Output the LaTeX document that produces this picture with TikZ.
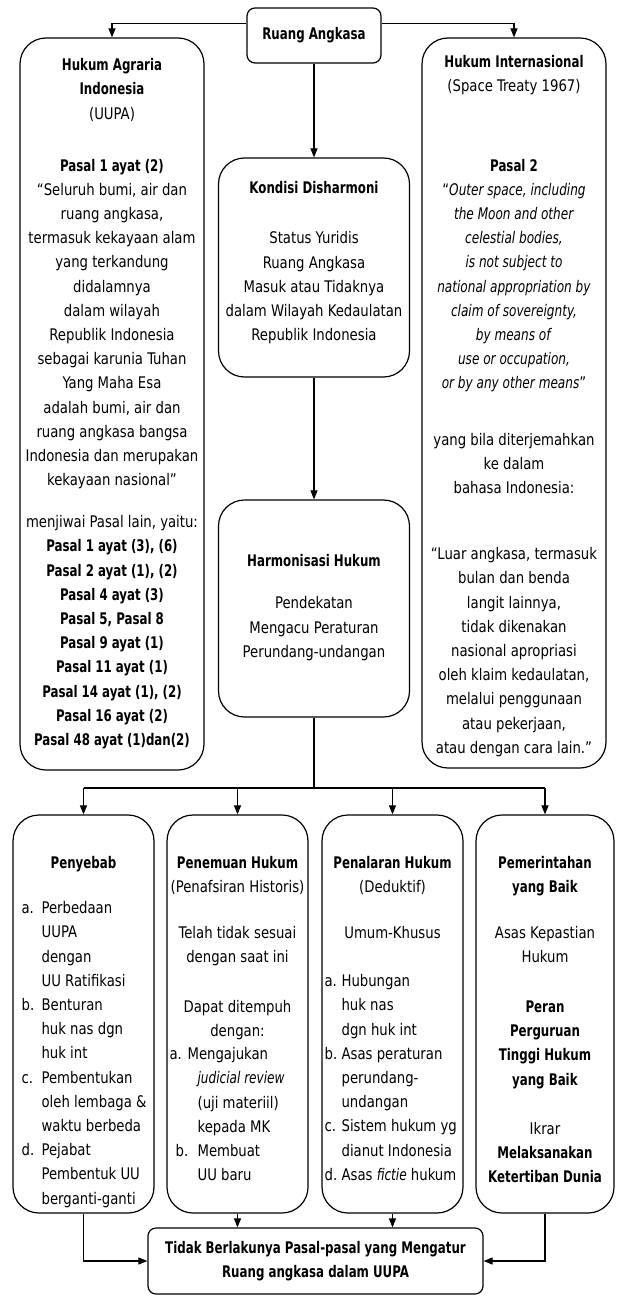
\documentclass[tikz,border=0pt]{standalone}
\usepackage{fontspec}
\setmainfont{DejaVu Sans Condensed}[
  BoldFont={DejaVu Sans Condensed Bold},
  ItalicFont={DejaVu Sans Condensed Oblique},
  FakeStretch=0.92,
  BoldFeatures={FakeStretch=0.82},
  ItalicFeatures={FakeStretch=0.84}]
\usepackage{tikz}
\usetikzlibrary{arrows.meta,positioning}
\newcommand{\bodysize}{\fontsize{16}{24.2}\selectfont}
\newcommand{\lstlbl}[2][20pt]{\makebox[#1][l]{#2}}
\newcommand{\lstind}[1][20pt]{\hspace*{#1}}
\tikzset{
  panel/.style={draw, line width=1.2pt, rounded corners=26pt, inner sep=0pt},
  capbox/.style={draw, line width=1.2pt, rounded corners=8pt, align=center,
                 font=\bodysize\bfseries},
  txt/.style={anchor=north, align=center, inner sep=0pt, font=\bodysize},
  lst/.style={anchor=north west, align=left, inner sep=0pt, font=\bodysize},
  link/.style={-{Triangle[length=9pt, width=7pt]}, line width=1.1pt},
  wire/.style={line width=1.1pt},
}

\begin{document}
\begin{tikzpicture}[x=1pt, y=-1pt]
  \useasboundingbox (0,0) rectangle (616,1297);
  % top row
  \node[capbox, minimum width=134pt, minimum height=55pt] (ruang) at (314,35.5) {Ruang Angkasa};
  \node[panel, minimum width=184pt, minimum height=732pt] (uupa) at (112,404) {};
  \node[panel, minimum width=184pt, minimum height=730pt] (space) at (514,403) {};
  \node[panel, minimum width=191pt, minimum height=219pt] (kondisi) at (314,267.5) {};
  \node[panel, minimum width=191pt, minimum height=217pt] (harmon) at (314,608.5) {};

  \node[txt, below=21pt of uupa.north] (uupatxt) {\textbf{Hukum Agraria}\\ \textbf{Indonesia}\\ (UUPA)\\[27.8pt]
    \textbf{Pasal 1 ayat (2)}\\ “Seluruh bumi, air dan\\ ruang angkasa,\\ termasuk kekayaan alam\\
    yang terkandung\\ didalamnya\\ dalam wilayah\\ Republik Indonesia\\ sebagai karunia Tuhan\\
    Yang Maha Esa\\ adalah bumi, air dan\\ ruang angkasa bangsa\\ Indonesia dan merupakan\\
    kekayaan nasional”\\[17.8pt] menjiwai Pasal lain, yaitu:\\ \textbf{Pasal 1 ayat (3), (6)}\\
    \textbf{Pasal 2 ayat (1), (2)}\\ \textbf{Pasal 4 ayat (3)}\\ \textbf{Pasal 5, Pasal 8}\\
    \textbf{Pasal 9 ayat (1)}\\ \textbf{Pasal 11 ayat (1)}\\ \textbf{Pasal 14 ayat (1), (2)}\\
    \textbf{Pasal 16 ayat (2)}\\ \textbf{Pasal 48 ayat (1)dan(2)}};

  \node[txt, below=18pt of space.north] (spacetxt) {\textbf{Hukum Internasional}\\ (Space Treaty 1967)\\[55pt]
    \textbf{Pasal 2}\\ “\textit{Outer space, including}\\ \textit{the Moon and other}\\
    \textit{celestial bodies,}\\ \textit{is not subject to}\\ \textit{national appropriation by}\\
    \textit{claim of sovereignty,}\\ \textit{by means of}\\ \textit{use or occupation,}\\
    \textit{or by any other means}”\\[32pt] yang bila diterjemahkan\\ ke dalam\\ bahasa Indonesia:\\[42pt]
    “Luar angkasa, termasuk\\ bulan dan benda\\ langit lainnya,\\ tidak dikenakan\\
    nasional apropriasi\\ oleh klaim kedaulatan,\\ melalui penggunaan\\ atau pekerjaan,\\
    atau dengan cara lain.”};

  \node[txt, below=24pt of kondisi.north] (kondisitxt) {\textbf{Kondisi Disharmoni}\\[26pt]
    Status Yuridis\\ Ruang Angkasa\\ Masuk atau Tidaknya\\ dalam Wilayah Kedaulatan\\ Republik Indonesia};
  \node[txt, below=55pt of harmon.north] (harmontxt) {\textbf{Harmonisasi Hukum}\\[18pt]
    Pendekatan\\ Mengacu Peraturan\\ Perundang-undangan};

  % bottom row
  \node[panel, minimum width=141pt, minimum height=398pt] (sebab) at (83.5,1014) {};
  \node[panel, minimum width=141pt, minimum height=398pt] (temu) at (237.5,1014) {};
  \node[panel, minimum width=141pt, minimum height=398pt] (nalar) at (392.5,1014) {};
  \node[panel, minimum width=138pt, minimum height=398pt] (perintah) at (545,1014) {};
  \node[capbox, minimum width=335pt, minimum height=66pt] (final) at (315.5,1261)
    {Tidak Berlakunya Pasal-pasal yang Mengatur\\ Ruang angkasa dalam UUPA};

  \node[txt, below=42pt of sebab.north] (sebabtxt) {\textbf{Penyebab}};
  \node[lst, below right=87pt and 9pt of sebab.north west] (sebablst) {\lstlbl{a.}Perbedaan\\
    \lstind UUPA\\ \lstind dengan\\ \lstind UU Ratifikasi\\ \lstlbl{b.}Benturan\\
    \lstind huk nas dgn\\ \lstind huk int\\ \lstlbl{c.}Pembentukan\\ \lstind oleh lembaga \&\\
    \lstind waktu berbeda\\ \lstlbl{d.}Pejabat\\ \lstind Pembentuk UU\\ \lstind berganti-ganti};

  \node[txt, below=42pt of temu.north] (temutxt) {\textbf{Penemuan Hukum}\\ (Penafsiran Historis)\\[21pt]
    Telah tidak sesuai\\ dengan saat ini\\[26pt] Dapat ditempuh\\ dengan:};
  \node[lst, below right=233pt and 3pt of temu.north west] (temulst) {\lstlbl[18pt]{a.}Mengajukan\\
    \lstind[28pt]\textit{judicial review}\\ \lstind[28pt](uji materiil)\\ \lstind[28pt]kepada MK\\
    \lstind[6pt]\lstlbl[22pt]{b.}Membuat\\ \lstind[28pt]UU baru};

  \node[txt, below=42pt of nalar.north] (nalartxt) {\textbf{Penalaran Hukum}\\ (Deduktif)\\[21pt] Umum-Khusus};
  \node[lst, below right=160pt and 3pt of nalar.north west] (nalarlst) {\lstlbl[17pt]{a.}Hubungan\\
    \lstind[17pt]huk nas\\ \lstind[17pt]dgn huk int\\ \lstlbl[17pt]{b.}Asas peraturan\\
    \lstind[17pt]perundang-\\ \lstind[17pt]undangan\\ \lstlbl[17pt]{c.}Sistem hukum yg\\
    \lstind[17pt]dianut Indonesia\\ \lstlbl[17pt]{d.}Asas \textit{fictie} hukum};

  \node[txt, below=42pt of perintah.north] (perintahtxt) {\textbf{Pemerintahan}\\ \textbf{yang Baik}\\[21pt]
    Asas Kepastian\\ Hukum\\[26pt] \textbf{Peran}\\ \textbf{Perguruan}\\ \textbf{Tinggi Hukum}\\
    \textbf{yang Baik}\\[25pt] Ikrar\\ \textbf{Melaksanakan}\\ \textbf{Ketertiban Dunia}};

  % connectors
  \draw[link] (ruang.170) -| (uupa.north);
  \draw[link] (ruang.10) -| (space.north);
  \draw[link] (ruang.south) -- (kondisi.north);
  \draw[link] (kondisi.south) -- (harmon.north);
  \coordinate (bus) at (314,788);
  \draw[wire] (harmon.south) -- (bus);
  \draw[wire] (bus -| sebab.north) -- (bus -| perintah.north);
  \foreach \n in {sebab,temu,nalar,perintah}
    \draw[link] (bus -| \n.north) -- (\n.north);
  \draw[link] (temu.south) -- (temu.south |- final.north);
  \draw[link] (nalar.south) -- (nalar.south |- final.north);
  \draw[link] (sebab.south) |- (final.west);
  \draw[link] (perintah.south) |- (final.east);
\end{tikzpicture}
\end{document}
